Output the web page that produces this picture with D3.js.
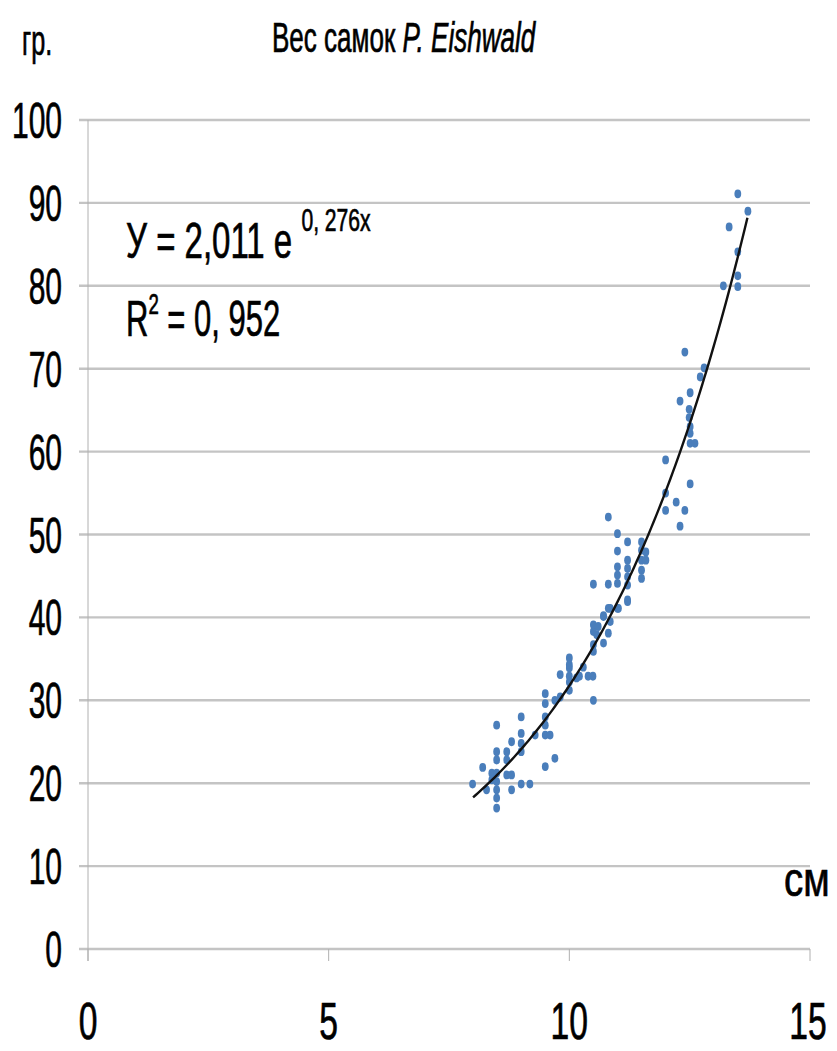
<!DOCTYPE html>
<html><head><meta charset="utf-8">
<script src="https://cdn.jsdelivr.net/npm/d3@7"></script>
<style>
html,body{margin:0;padding:0;background:#fff;}
svg{display:block;}
text{font-family:"Liberation Sans",Arial,sans-serif;fill:#000;stroke:#000;stroke-width:0.7px;}
</style></head>
<body>
<script>
// ---- data ----
const lengths = [7.99,8.20,8.28,8.39,8.39,8.49,8.49,8.49,8.49,8.49,8.49,8.49,8.49,8.70,8.70,8.70,8.80,8.80,8.80,9.00,9.18,9.00,9.00,9.00,9.00,9.29,9.50,9.60,9.50,9.50,9.50,9.70,9.50,9.50,9.70,9.81,
 9.81,10.0,10.0,10.0,10.0,10.0,10.0,10.15,10.21,10.29,10.39,10.49,10.50,10.50,10.50,10.57,10.50,10.50,10.60,10.71,10.81,10.85,10.71,10.71,10.85,11.02,11.21,11.21,10.81,11.00,10.50,10.81,11.00,11.00,11.00,11.00,11.00,10.81,11.21,11.21,11.21,11.21,11.21,11.50,11.50,11.50,11.50,11.50,11.59,11.59,
 12.0,12.0,12.0,12.22,12.30,12.40,12.51,12.51,12.61,12.51,12.51,12.49,12.49,12.51,12.30,12.72,12.80,12.40,13.2,13.5,13.5,13.5,13.32,13.71,13.5];
const weights = [19.9,21.9,19.2,21.2,20.4,21.2,20.2,19.2,18.2,17.0,23.8,22.8,27.0,23.8,22.8,21.0,21.0,19.2,25.0,19.9,19.9,23.8,24.8,26.0,28.0,25.8,25.8,25.8,27.0,28.0,22.0,23.0,29.6,30.8,30.0,30.4,
 33.1,33.9,32.9,32.2,31.2,35.1,34.3,32.7,32.9,34.0,32.9,32.9,30.0,35.9,36.7,37.9,38.3,39.1,38.9,36.9,38.1,39.5,40.1,40.2,41.1,41.1,41.9,42.1,41.1,41.1,44.0,44.0,44.1,45.1,46.1,48.0,50.1,52.1,43.9,44.9,45.9,46.9,49.1,44.7,45.7,46.9,48.1,49.1,47.9,46.9,
 52.9,55.0,59.0,53.9,51.0,52.9,56.1,61.0,61.0,62.2,63.0,64.1,65.1,67.1,66.1,69.0,70.1,72.0,80.0,79.9,81.2,84.1,87.1,89.0,91.1];
const xTicks = [0,5,10,15];
const yTicks = [0,10,20,30,40,50,60,70,80,90,100];
const trendA = 2.011, trendB = 0.276;
const trendRange = [8.0, 13.7];
const titleMain = "Вес самок ";
const titleItalic = "P. Eishwald";
const yUnit = "гр.";
const xUnit = "см";

// ---- layout ----
const W = 837, H = 1051;
const svg = d3.select("body").append("svg").attr("width", W).attr("height", H);
const x = d3.scaleLinear().domain([0,15]).range([88,810]);
const y = d3.scaleLinear().domain([0,100]).range([949,120]);
const SX = 0.6;

function ctext(g, str, px, py, size, anchor, sx){
  return g.append("text")
    .attr("transform", `translate(${px},${py}) scale(${sx || SX},1)`)
    .attr("font-size", size)
    .attr("text-anchor", anchor || "start")
    .text(str);
}

// gridlines
svg.append("g").selectAll("line").data(yTicks).join("line")
  .attr("x1", 79).attr("x2", x(15))
  .attr("y1", d=>y(d)).attr("y2", d=>y(d))
  .attr("stroke", "#c4c4c4").attr("stroke-width", 2.4);

// y axis line
svg.append("line").attr("x1", x(0)).attr("x2", x(0)).attr("y1", y(100)).attr("y2", y(0)+12)
  .attr("stroke", "#b0b0b0").attr("stroke-width", 1);
// x ticks
svg.append("g").selectAll("line").data(xTicks).join("line")
  .attr("x1", d=>x(d)).attr("x2", d=>x(d)).attr("y1", y(0)).attr("y2", y(0)+12)
  .attr("stroke", "#b0b0b0").attr("stroke-width", 1);

// y labels
const yl = svg.append("g");
yTicks.forEach(d => ctext(yl, String(d), 62, y(d)+18, 50, "end"));
// x labels
const xl = svg.append("g");
xTicks.forEach(d => ctext(xl, String(d), x(d) + (d===15 ? -2 : 0), 1039, 51, "middle", 0.66));

// points
svg.append("g").selectAll("ellipse").data(lengths.map((l,i)=>[l, weights[i]])).join("ellipse")
  .attr("cx", d=>x(d[0])).attr("cy", d=>y(d[1]))
  .attr("rx", 3.4).attr("ry", 4.4)
  .attr("fill", "#4a7ebb");

// trendline
const tx = d3.range(trendRange[0], trendRange[1]+0.001, 0.05);
const line = d3.line().x(d=>x(d)).y(d=>y(trendA*Math.exp(trendB*d))).curve(d3.curveMonotoneX);
svg.append("path").datum(tx).attr("d", line)
  .attr("fill", "none").attr("stroke", "#111").attr("stroke-width", 2.4);

// title
const tt = svg.append("text")
  .attr("transform", `translate(272,52) scale(0.62,1)`)
  .attr("font-size", 42);
tt.append("tspan").text(titleMain);
tt.append("tspan").attr("font-style","italic").text(" " + titleItalic);

ctext(svg, yUnit, 22, 55, 42, "start", 0.6);
ctext(svg, xUnit, 784, 896, 48, "start", 0.8);

// equation
const eq = svg.append("text")
  .attr("transform", `translate(126,258) scale(0.66,1)`)
  .attr("font-size", 50);
eq.append("tspan").text("У = 2,011 е ");
eq.append("tspan").attr("font-size", 32).attr("dy", -27).text("0, 276x");
const r2 = svg.append("text")
  .attr("transform", `translate(126,336) scale(0.62,1)`)
  .attr("font-size", 50);
r2.append("tspan").text("R");
r2.append("tspan").attr("font-size", 30).attr("dy", -22).text("2");
r2.append("tspan").attr("dy", 22).text(" = 0, 952");
</script>
</body></html>
